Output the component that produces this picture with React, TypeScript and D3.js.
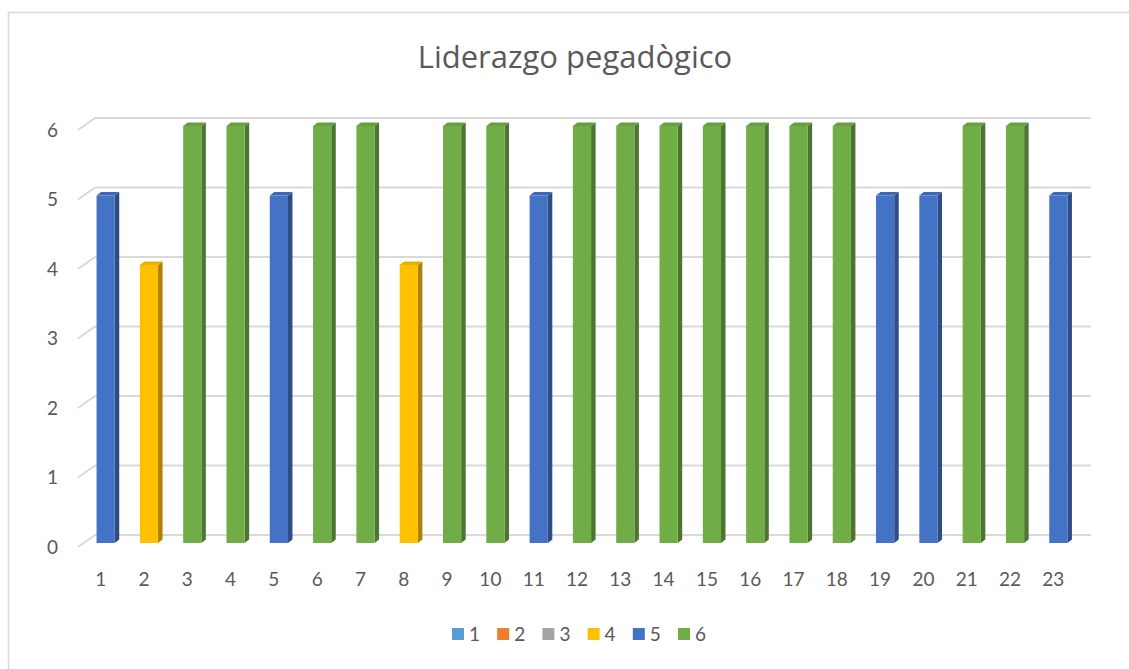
import { useMemo } from "react";
import * as d3 from "d3";

const width = 1129;
const height = 669;

const categories = ["1","2","3","4","5","6","7","8","9","10","11","12","13","14","15","16","17","18","19","20","21","22","23"];
const values = [5, 4, 6, 6, 5, 6, 6, 4, 6, 6, 5, 6, 6, 6, 6, 6, 6, 6, 5, 5, 6, 6, 5];
const seriesNames = ["1", "2", "3", "4", "5", "6"];
const seriesColors = ["#5B9BD5", "#ED7D31", "#A5A5A5", "#FFC000", "#4472C4", "#70AD47"];
const yTicks = [0, 1, 2, 3, 4, 5, 6];

// depth offsets for the 3d look (back wall is the reference plane)
const FLOOR = { dx: -17, dy: 12 };
const BAR_FRONT = { dx: -11, dy: 8 };
const BAR_BACK = { dx: -6.5, dy: 4.5 };

const shade = (c: string, k: number) => d3.color(c)!.darker(k).formatHex();

export default function App() {
  const x = useMemo(() => d3.scaleBand().domain(categories).range([95, 1091]).paddingInner(0.58).paddingOuter(0.29), []);
  const xCenter = useMemo(() => d3.scaleBand().domain(categories).range([95, 1091]), []);
  const y = useMemo(() => d3.scaleLinear().domain([0, 6]).range([535, 118]), []);
  const color = d3.scaleOrdinal<string, string>().domain(seriesNames).range(seriesColors);

  const bw = x.bandwidth();

  return (
    <svg width={width} height={height} style={{ position: "absolute", left: 0, top: 0, background: "#fff" }} fontFamily="Lato, 'Open Sans', sans-serif">
      <rect x={8.5} y={12.5} width={1200} height={700} fill="#fff" stroke="#d9d9d9" strokeWidth={1.5} />

      <text x={575} y={68} textAnchor="middle" fontSize={31} fill="#595959" fontFamily="'Open Sans', sans-serif">Liderazgo pegadògico</text>

      {/* gridlines on back wall and side wall */}
      {yTicks.map((t) => (
        <g key={t} stroke="#d9d9d9" strokeWidth={2} fill="none">
          <line x1={95} x2={1091} y1={y(t)} y2={y(t)} />
          <line x1={95} x2={95 + FLOOR.dx} y1={y(t)} y2={y(t) + FLOOR.dy} />
        </g>
      ))}

      {/* y labels */}
      {yTicks.map((t) => (
        <text key={t} x={58} y={y(t) + FLOOR.dy} dy="0.35em" textAnchor="end" fontSize={19} fill="#595959">{t}</text>
      ))}

      {/* bars */}
      {categories.map((c, i) => {
        const v = values[i];
        const col = color(String(v));
        const x0 = x(c)! + BAR_FRONT.dx;
        const x1 = x0 + bw;
        const yb = y(0) + BAR_FRONT.dy;
        const yt = y(v) + BAR_FRONT.dy;
        const ddx = BAR_BACK.dx - BAR_FRONT.dx;
        const ddy = BAR_BACK.dy - BAR_FRONT.dy;
        const side = `M${x1},${yt}L${x1 + ddx},${yt + ddy}L${x1 + ddx},${yb + ddy}L${x1},${yb}Z`;
        const top = `M${x0},${yt}L${x0 + ddx},${yt + ddy}L${x1 + ddx},${yt + ddy}L${x1},${yt}Z`;
        return (
          <g key={c}>
            <path d={side} fill={shade(col, 1.1)} />
            <path d={top} fill={shade(col, 0.25)} />
            <rect x={x0} y={yt} width={bw} height={yb - yt} fill={col} />
          </g>
        );
      })}

      {/* x labels */}
      {categories.map((c) => (
        <text key={c} x={xCenter(c)! + xCenter.bandwidth() / 2 + FLOOR.dx + 1} y={586} textAnchor="middle" fontSize={19} fill="#595959">{c}</text>
      ))}

      {/* legend */}
      {seriesNames.map((s, i) => (
        <g key={s} transform={`translate(${452 + i * 45.2}, 628)`}>
          <rect x={0} y={0} width={12} height={12} fill={seriesColors[i]} />
          <text x={17} y={13} fontSize={19} fill="#595959">{s}</text>
        </g>
      ))}
    </svg>
  );
}
